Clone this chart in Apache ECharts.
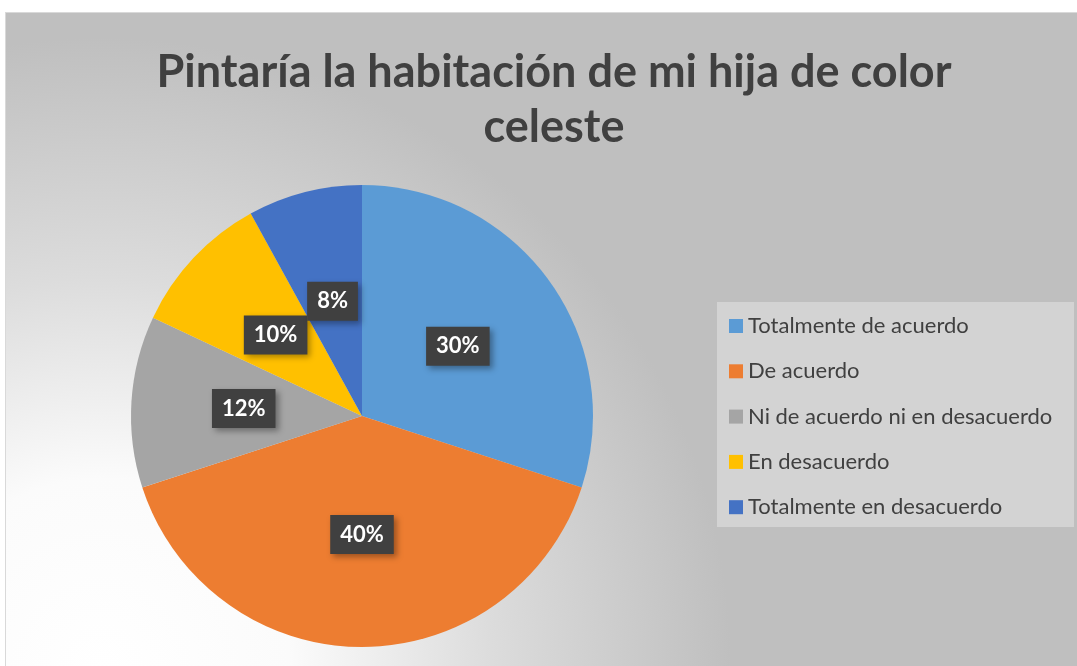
<!DOCTYPE html>
<html>
<head>
<meta charset="utf-8">
<script src="https://cdn.jsdelivr.net/npm/echarts@6/dist/echarts.min.js"></script>
<style>
	html, body { margin: 0; padding: 0; background: #fff; }
	#grafico {
		position: absolute;
		left: 5px;
		top: 12px;
		width: 1071px;
		height: 653px;
		border-left: 1px solid #d9d9d9;
		border-top: 1px solid #d9d9d9;
	}
</style>
</head>
<body>
<div id="grafico"></div>
<script>
var titulo = 'Pintaría la habitación de mi hija de color\nceleste';
var categorias = ['Totalmente de acuerdo', 'De acuerdo', 'Ni de acuerdo ni en desacuerdo', 'En desacuerdo', 'Totalmente en desacuerdo'];
var porcentajes = [30, 40, 12, 10, 8];
var colores = ['#5B9BD5', '#ED7D31', '#A5A5A5', '#FFC000', '#4472C4'];

function getOption() {
	var datos = [];
	for(var i = 0; i < categorias.length; i++) {
		datos.push({
			name: categorias[i],
			value: porcentajes[i],
			itemStyle: { color: colores[i] }
		});
	}
	var option = {
		backgroundColor: {
			type: 'radial',
			x: 95,
			y: 655,
			r: 630,
			global: true,
			colorStops: [
				{ offset: 0, color: '#ffffff' },
				{ offset: 0.3, color: '#fbfbfb' },
				{ offset: 0.62, color: '#dcdcdc' },
				{ offset: 1, color: '#bfbfbf' }
			]
		},
		title: {
			text: titulo,
			left: 543,
			top: 27,
			textAlign: 'center',
			textStyle: {
				fontFamily: 'Lato',
				fontWeight: 'bold',
				fontSize: 45,
				lineHeight: 55,
				color: '#404040',
				align: 'center'
			}
		},
		graphic: [{
			type: 'rect',
			left: 711,
			top: 289,
			shape: { width: 357, height: 225 },
			style: { fill: '#d3d3d3' },
			z: 0
		}],
		legend: {
			orient: 'vertical',
			left: 711,
			top: 290,
			padding: [12, 18, 12, 12],
			itemWidth: 14,
			itemHeight: 14,
			itemGap: 23.3,
			icon: 'rect',
			data: categorias,
			textStyle: {
				fontFamily: 'Lato',
				fontSize: 22,
				lineHeight: 20,
				color: '#404040'
			},
			z: 5
		},
		series: [{
			name: 'respuestas',
			type: 'pie',
			center: [356, 403],
			radius: 231,
			startAngle: 90,
			clockwise: true,
			silent: true,
			labelLayout: { hideOverlap: false },
			label: {
				show: true,
				position: 'inside',
				formatter: '{c}%',
				fontFamily: 'Lato',
				fontWeight: 'bold',
				fontSize: 22,
				color: '#ffffff',
				backgroundColor: '#404040',
				padding: [9, 10, 8, 10],
				shadowColor: 'rgba(0,0,0,0.35)',
				shadowBlur: 6,
				shadowOffsetX: 3,
				shadowOffsetY: 3
			},
			labelLine: { show: false },
			data: datos
		}]
	};
	return option;
}

var grafico = echarts.init(document.getElementById('grafico'));
grafico.setOption(getOption());
</script>
</body>
</html>
